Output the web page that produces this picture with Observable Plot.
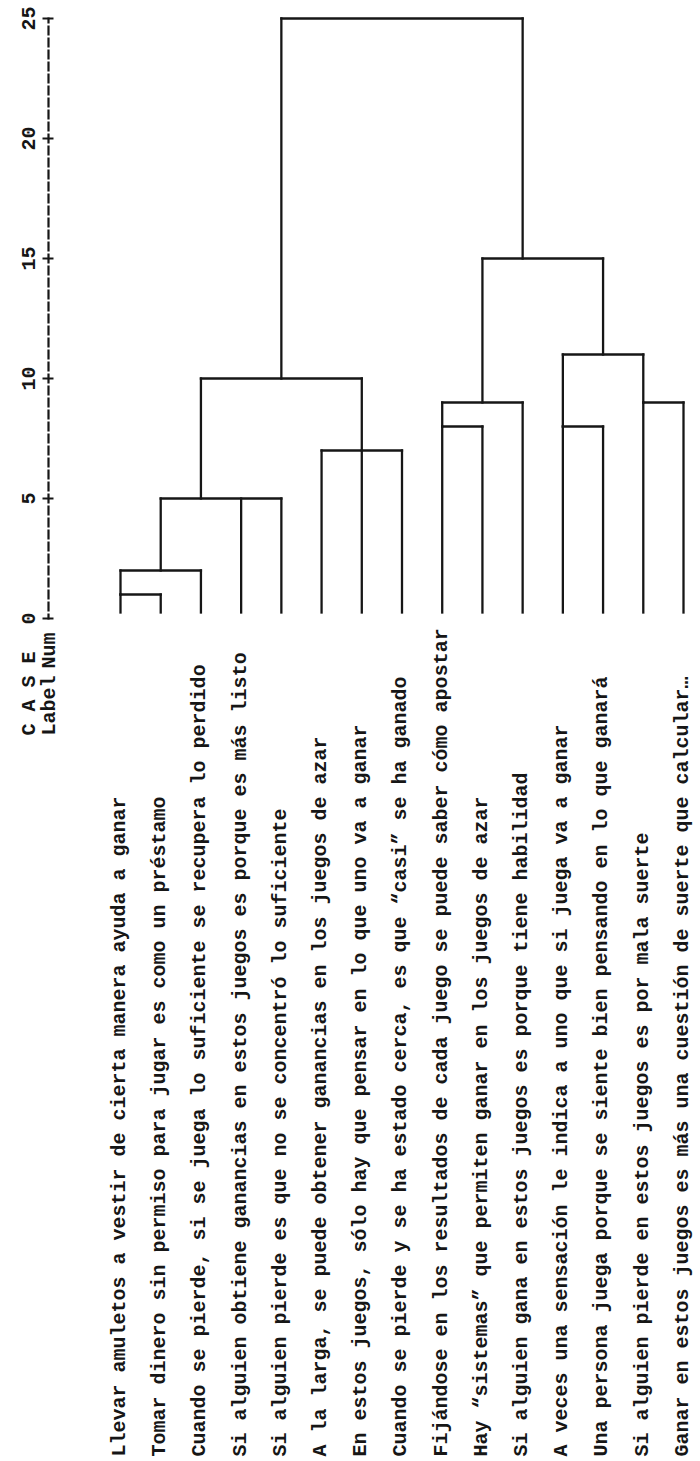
<!DOCTYPE html>
<html>
<head>
<meta charset="utf-8">
<script src="https://cdn.jsdelivr.net/npm/d3@7"></script>
<script src="https://cdn.jsdelivr.net/npm/@observablehq/plot@0.6"></script>
<style>
html, body { margin: 0; padding: 0; background: #fff; }
#chart svg { display: block; }
</style>
</head>
<body>
<div id="chart"></div>
<script>
// ---- data ----
const labels = [
  "Llevar amuletos a vestir de cierta manera ayuda a ganar",
  "Tomar dinero sin permiso para jugar es como un préstamo",
  "Cuando se pierde, si se juega lo suficiente se recupera lo perdido",
  "Si alguien obtiene ganancias en estos juegos es porque es más listo",
  "Si alguien pierde es que no se concentró lo suficiente",
  "A la larga, se puede obtener ganancias en los juegos de azar",
  "En estos juegos, sólo hay que pensar en lo que uno va a ganar",
  "Cuando se pierde y se ha estado cerca, es que “casi” se ha ganado",
  "Fijándose en los resultados de cada juego se puede saber cómo apostar",
  "Hay “sistemas” que permiten ganar en los juegos de azar",
  "Si alguien gana en estos juegos es porque tiene habilidad",
  "A veces una sensación le indica a uno que si juega va a ganar",
  "Una persona juega porque se siente bien pensando en lo que ganará",
  "Si alguien pierde en estos juegos es por mala suerte",
  "Ganar en estos juegos es más una cuestión de suerte que calcular…"
];
// merges: children (leaf numbers or merge ids), rescaled distance, stem position (leaf units)
const mergeIds      = ["m1","m2","m3","m4","m5","m6","m7","m8","m9","m10","m11","m12"];
const mergeChildren = [[1,2],["m1",3],["m2",4,5],[6,7,8],["m3","m4"],[9,10],["m6",11],[12,13],[14,15],["m8","m9"],["m7","m10"],["m5","m11"]];
const mergeHeights  = [1, 2, 5, 7, 10, 8, 9, 8, 9, 11, 15, 25];
const mergeStems    = [1, 2, 3, 7, 5, 9, 10, 12, 14, 13, 11, 8];
const leafBase = 0.25;
const yTicks = [0, 5, 10, 15, 20, 25];
const headerCase = "C A S E";
const headerLabel = "Label";
const headerNum = "Num";

// ---- build segments ----
const nodes = new Map();
labels.forEach((l, i) => nodes.set(i + 1, {pos: i + 1, h: leafBase}));
const segs = [];
mergeIds.forEach((id, j) => {
  const kids = mergeChildren[j].map(c => nodes.get(c));
  const ps = kids.map(k => k.pos);
  const h = mergeHeights[j];
  segs.push({x1: d3.min(ps), x2: d3.max(ps), y1: h, y2: h});
  kids.forEach(k => segs.push({x1: k.pos, x2: k.pos, y1: k.h, y2: h}));
  nodes.set(id, {pos: mergeStems[j], h});
});

const font = "'Liberation Mono', 'Courier New', monospace";
const ink = "#161616";

const chart = Plot.plot({
  width: 700,
  height: 1461,
  marginTop: 18,
  marginBottom: 843,
  marginLeft: 48,
  marginRight: 17,
  style: {background: "#fff", fontFamily: font},
  x: {domain: [1, 15], range: [120, 683], axis: null},
  y: {domain: [0, 25], axis: null},
  marks: [
    Plot.frame({anchor: "left", stroke: ink, strokeWidth: 2.2, strokeDasharray: "8,4", strokeDashoffset: 4}),
    Plot.axisY({ticks: yTicks, anchor: "left", tickSize: 11, dx: 5.5, fill: "none", label: null, stroke: ink, strokeWidth: 2}),
    Plot.text(yTicks, {y: d => d, text: d => String(d), frameAnchor: "left", dx: -20, rotate: -90,
      textAnchor: "middle", lineAnchor: "middle", fontFamily: font, fontSize: 20, fontWeight: "bold", fill: ink}),
    Plot.link(segs, {x1: "x1", y1: "y1", x2: "x2", y2: "y2", stroke: ink, strokeWidth: 2.3, strokeLinecap: "square"}),
    Plot.text(labels, {x: (d, i) => i + 1, text: d => d, frameAnchor: "bottom", dy: 838, dx: -2, rotate: -90,
      textAnchor: "start", lineAnchor: "middle", fontFamily: font, fontSize: 20, fontWeight: "bold", fill: ink}),
    Plot.text([headerCase], {text: d => d, frameAnchor: "bottom-left", dx: -20, dy: 117, rotate: -90,
      textAnchor: "start", lineAnchor: "middle", fontFamily: font, fontSize: 20, fontWeight: "bold", fill: ink}),
    Plot.text([headerLabel], {text: d => d, frameAnchor: "bottom-left", dx: 0, dy: 117, rotate: -90,
      textAnchor: "start", lineAnchor: "middle", fontFamily: font, fontSize: 20, fontWeight: "bold", fill: ink}),
    Plot.text([headerNum], {text: d => d, frameAnchor: "bottom-left", dx: 0, dy: 50, rotate: -90,
      textAnchor: "start", lineAnchor: "middle", fontFamily: font, fontSize: 20, fontWeight: "bold", fill: ink})
  ]
});
document.getElementById("chart").appendChild(chart);
</script>
</body>
</html>
